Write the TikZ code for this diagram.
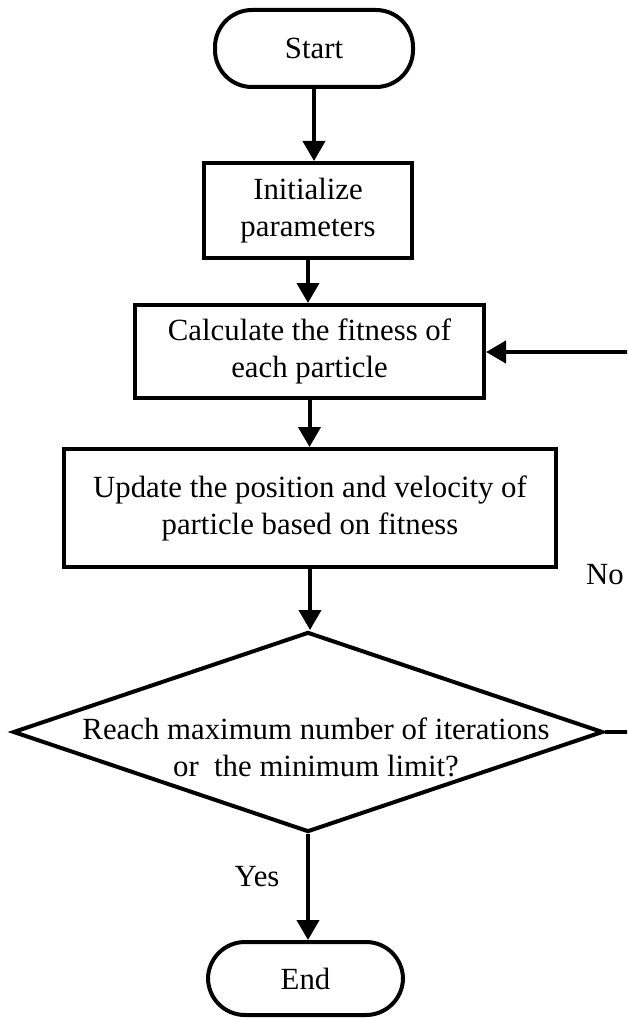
\documentclass[tikz,border=0pt]{standalone}
\usepackage{fontspec}
\setmainfont{Liberation Serif}
\usetikzlibrary{arrows.meta,shapes.geometric}
\begin{document}
\begin{tikzpicture}[x=1pt,y=1pt,
  every node/.style={font=\fontsize{30.8}{37}\selectfont},
  flow/.style={line width=4pt},
  arr/.style={flow,-{Triangle[width=22pt,length=20pt]}},
  term/.style={draw,line width=4pt,rounded corners=37pt,inner sep=0pt,align=center},
  proc/.style={draw,line width=4pt,inner sep=0pt,align=center},
  lbl/.style={inner sep=0pt}]
\useasboundingbox (0,0) rectangle (627,-1019);
\clip (0,0) rectangle (627,-1019);
\node[term,minimum width=198pt,minimum height=77pt] (start) at (314,-48.5) {Start};
\node[proc,minimum width=208pt,minimum height=95pt] (init) at (308,-210.5) {Initialize\\parameters};
\node[proc,minimum width=349pt,minimum height=93pt] (calc) at (309.5,-351.5) {Calculate the fitness of\\each particle};
\node[proc,minimum width=492pt,minimum height=118pt] (upd) at (310,-508) {Update the position and velocity of\\particle based on fitness};
\node[draw,line width=4pt,diamond,inner sep=0pt,minimum width=590pt,minimum height=200pt] (dec) at (308,-732) {};
\node[lbl,align=center] (dtext) at (316,-747) {Reach maximum number of iterations\\or\ \ the minimum limit?};
\node[term,minimum width=195pt,minimum height=73pt] (end) at (305.5,-978.5) {End};
\node[lbl] (no) at (605,-575) {No};
\node[lbl] (yes) at (257,-877) {Yes};
\coordinate (c1) at (634,-732);
\coordinate (c2) at (634,-352);
\draw[arr] (start.south) -- (start.south |- init.north);
\draw[arr] (init.south) -- (init.south |- calc.north);
\draw[arr] (calc.south) -- (calc.south |- upd.north);
\draw[arr] (upd.south) -- (upd.south |- dec.north);
\draw[arr] (dec.south) -- (dec.south |- end.north);
\draw[arr] (dec.east) -- (c1) -- (c2) -- (calc.east |- c2);
\end{tikzpicture}
\end{document}
